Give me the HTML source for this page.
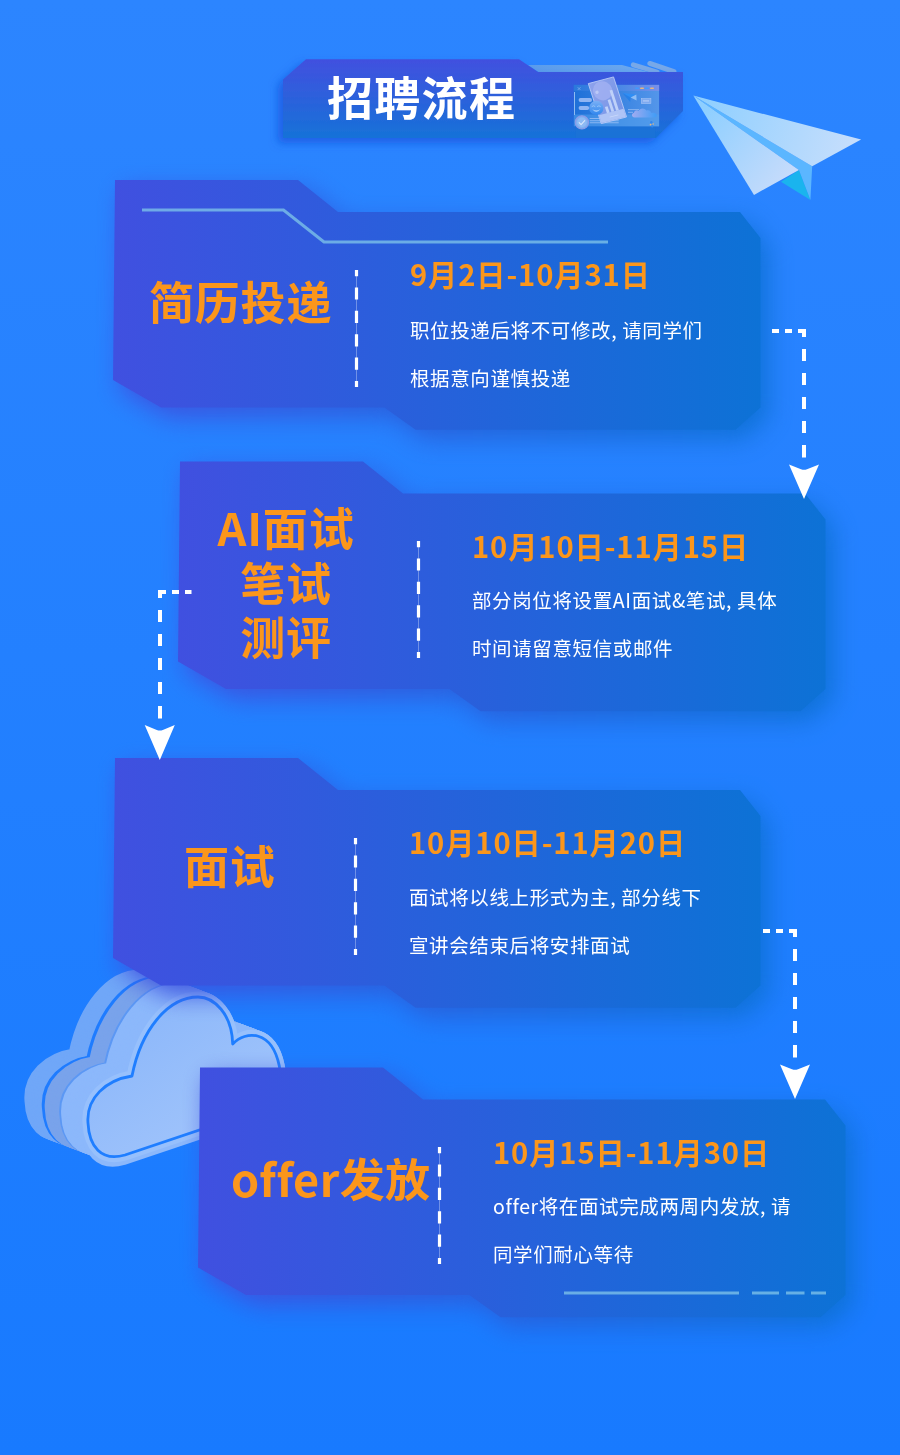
<!DOCTYPE html>
<html lang="zh-CN">
<head>
<meta charset="utf-8">
<title>招聘流程</title>
<style>
html,body{margin:0;padding:0;background:#2C85FF;}
#page{position:relative;width:900px;height:1455px;overflow:hidden;
  background:linear-gradient(180deg,#2C85FF 0%,#187AFF 100%);
  font-family:"Noto Sans CJK SC","Liberation Sans",sans-serif;}
#art{position:absolute;left:0;top:0;width:900px;height:1455px;display:block;}
.t{will-change:transform;position:absolute;white-space:nowrap;margin:0;padding:0;line-height:1;}
.hd{color:#fff;font-weight:700;font-size:46px;letter-spacing:1.3px;}
.ttl{color:#FB961B;font-weight:700;font-size:45px;letter-spacing:0.8px;text-align:center;}
.date{color:#FB961B;font-weight:700;font-size:29.2px;letter-spacing:0.9px;}
.body{color:#fff;font-weight:400;font-size:19.5px;letter-spacing:0.62px;margin-top:0.2px;}
</style>
</head>
<body>
<div id="page">
<svg id="art" width="900" height="1455" viewBox="0 0 900 1455">
<defs>
  <linearGradient id="gCard" x1="0" y1="0" x2="1" y2="0">
    <stop offset="0" stop-color="#4050E0"/><stop offset="1" stop-color="#0D72D6"/>
  </linearGradient>
  <linearGradient id="gBan" x1="0" y1="0" x2="0" y2="1">
    <stop offset="0" stop-color="#4150DF"/><stop offset="1" stop-color="#1672D8"/>
  </linearGradient>
  <filter id="sh" x="-10%" y="-20%" width="120%" height="145%" color-interpolation-filters="sRGB">
    <feGaussianBlur in="SourceGraphic" stdDeviation="12" result="b"/>
    <feOffset in="b" dx="8" dy="10" result="o"/>
    <feComponentTransfer in="o" result="f"><feFuncA type="linear" slope="0.95"/></feComponentTransfer>
    <feMerge><feMergeNode in="f"/><feMergeNode in="SourceGraphic"/></feMerge>
  </filter>
</defs>

<!-- SECTION: banner -->
<g id="banner">
  <defs>
    <filter id="shB" x="-10%" y="-30%" width="120%" height="170%">
      <feDropShadow dx="-5" dy="5" stdDeviation="4.5" flood-color="#1648D6" flood-opacity="0.6"/>
    </filter>
    <linearGradient id="gTab" x1="0" y1="0" x2="1" y2="0">
      <stop offset="0" stop-color="#66A2E6" stop-opacity="0.8"/><stop offset="1" stop-color="#78B0EC" stop-opacity="0.85"/>
    </linearGradient>
  </defs>
  <!-- light tab behind -->
  <path d="M528,65 L622,65 L652,73 L540,73 Z" fill="url(#gTab)"/>
  <path d="M633.3,64.8 L657,72" stroke="#77A8E8" stroke-width="4.9" stroke-linecap="round" fill="none"/>
  <path d="M649.8,63.4 L674,71.6" stroke="#77A8E8" stroke-width="4.9" stroke-linecap="round" fill="none"/>
  <!-- banner body -->
  <path d="M283,79.5 L306,59.3 L519,59.3 L538,72 L683,72 L683,111 L656,138 L283,138 Z" fill="url(#gBan)" filter="url(#shB)"/>
  <!-- banner illustration -->
  <g id="illu">
    <defs>
      <linearGradient id="gWin" x1="0" y1="0" x2="1" y2="0">
        <stop offset="0" stop-color="#1E70D8"/><stop offset="0.55" stop-color="#3B85E2"/><stop offset="1" stop-color="#5496EA"/>
      </linearGradient>
      <linearGradient id="gBar" x1="0" y1="0" x2="1" y2="0">
        <stop offset="0" stop-color="#2A78DC"/><stop offset="0.6" stop-color="#4F8AE6"/><stop offset="1" stop-color="#7A90EA"/>
      </linearGradient>
      <linearGradient id="gPh" x1="0" y1="0" x2="1" y2="1">
        <stop offset="0" stop-color="#8EA2EC"/><stop offset="1" stop-color="#7494E6"/>
      </linearGradient>
      <linearGradient id="gCl" x1="0" y1="0" x2="1" y2="0">
        <stop offset="0" stop-color="#A0ABF0"/><stop offset="1" stop-color="#3F9CF6"/>
      </linearGradient>
      <linearGradient id="gSm" x1="0" y1="0" x2="0" y2="1">
        <stop offset="0" stop-color="#7AB0F6"/><stop offset="1" stop-color="#2F86EE"/>
      </linearGradient>
    </defs>
    <rect x="575.8" y="126" width="79.4" height="12" fill="#1B72D6" opacity="0.85"/>
    <rect x="573.8" y="84.9" width="85.3" height="41.4" fill="url(#gWin)"/>
    <rect x="573.8" y="84.9" width="85.3" height="6" fill="url(#gBar)"/>
    <rect x="573.8" y="114.5" width="85.3" height="11.8" fill="#52A0EC" opacity="0.55"/>
    <rect x="574" y="92" width="0.9" height="23" fill="#9CC4F5"/>
    <path d="M577.7,87.2 l2.8,2.8 m0,-2.8 l-2.8,2.8" stroke="#8FB8F2" stroke-width="0.6" fill="none"/>
    <rect x="635" y="87.4" width="4" height="1.6" rx="0.8" fill="#3F9BFF"/>
    <rect x="640" y="87.4" width="4" height="1.6" rx="0.8" fill="#E9B67E"/>
    <rect x="645" y="87.4" width="4" height="1.6" rx="0.8" fill="#3F9BFF"/>
    <rect x="650" y="87.4" width="4" height="1.6" rx="0.8" fill="#E9B67E"/>
    <rect x="578.6" y="98" width="13.4" height="3.9" rx="1.95" fill="#8FB5F3"/>
    <rect x="578.6" y="106" width="10.6" height="3.9" rx="1.95" fill="#8FB5F3"/>
    <!-- small plane -->
    <path d="M622.4,93 L636.3,94.6 L630.6,97.4 Z" fill="#2F8EF4"/>
    <path d="M622.4,93 L630.6,97.4 L630.2,102 Z" fill="#2680E8"/>
    <path d="M630.6,97.4 L636.3,94.6 L636.6,100.6 Z" fill="#8DBDF6"/>
    <!-- small rect -->
    <rect x="641.3" y="98.6" width="9.6" height="5" fill="#7FAAF0" stroke="#A5C4F6" stroke-width="0.6"/>
    <rect x="643" y="100.2" width="6" height="1.4" fill="#A9C6F7"/>
    <!-- lines -->
    <rect x="628" y="109.2" width="11" height="0.9" fill="#8FB8F2"/>
    <rect x="628" y="111.8" width="5" height="0.9" fill="#8FB8F2"/>
    <!-- cloud -->
    <path d="M634.5,117.4 C631.5,117.4 631,113.6 634,112.8 C634.2,110.6 637,109.6 638.6,111 C639.6,108 644.6,107.4 646.4,110.6 C648.6,109.6 651,110.8 651.2,113 C654.4,112.4 657.6,114 656.6,116 C656.2,117 655,117.4 654,117.4 Z" fill="url(#gCl)"/>
    <!-- lines next to check -->
    <rect x="589.7" y="118.2" width="10" height="0.8" fill="#9CC0F5"/>
    <rect x="589.7" y="120.4" width="29" height="0.8" fill="#9CC0F5"/>
    <rect x="589.7" y="122.4" width="29" height="0.8" fill="#9CC0F5"/>
    <!-- tilted card -->
    <g transform="matrix(0.963,-0.2545,0.313,0.964,588.3,83.6)">
      <rect x="0" y="0" width="26.2" height="41.5" fill="url(#gPh)" stroke="#B9CBF8" stroke-width="0.8"/>
      <circle cx="11.5" cy="10.5" r="9.6" fill="#A3B2F2" opacity="0.8"/>
      <circle cx="5.6" cy="10.5" r="1.7" fill="#BCC9F7"/>
      <rect x="0.4" y="33" width="25.4" height="8.1" fill="#AFC4F6"/>
      <rect x="8.6" y="26.5" width="2.8" height="6.5" fill="#BFD1F9"/>
      <rect x="13.4" y="20.5" width="2.8" height="12.5" fill="#BFD1F9"/>
      <rect x="18.2" y="12" width="2.8" height="21" fill="#BFD1F9"/>
      <rect x="10" y="37" width="9" height="0.8" fill="#C9D8FA"/>
    </g>
    <!-- smiley -->
    <circle cx="596.3" cy="108" r="7.2" fill="url(#gSm)"/>
    <path d="M592.2,109.3 Q596.3,114.6 600.4,109.3 Q596.3,111.4 592.2,109.3 Z" fill="#9CC6F8"/>
    <path d="M592,106.4 q1.5,-1.6 3,0 M597.4,106.4 q1.5,-1.6 3,0" stroke="#9CC6F8" stroke-width="0.9" fill="none" stroke-linecap="round"/>
    <!-- check badge -->
    <circle cx="581.9" cy="122.4" r="6.6" fill="#7FAFF0" stroke="#8B9CE8" stroke-width="1.2"/>
    <circle cx="581.9" cy="122.4" r="4.8" fill="#8DBAF4"/>
    <path d="M579.2,122.6 l1.9,2 l3.6,-4" stroke="#D6E6FC" stroke-width="1.1" fill="none" stroke-linecap="round" stroke-linejoin="round"/>
    <!-- tiny figure -->
    <circle cx="651.3" cy="122.3" r="1.2" fill="#2F86F0"/>
    <circle cx="650.6" cy="124.6" r="0.9" fill="#E9B67E"/>
    <circle cx="652.2" cy="126.4" r="1.1" fill="#2F86F0"/>
    <circle cx="653.2" cy="124" r="0.7" fill="#E9B67E"/>
  </g>
</g>

<!-- SECTION: cards 1,2 -->
<path d="M115,180 L298,180 L338,212 L740,212 L760.5,238 L760.5,407.6 L735.5,429.8 L415.6,429.8 L384.4,407.6 L161,407.6 L113,380 Z" fill="url(#gCard)" filter="url(#sh)"/>
<path d="M115,180 L298,180 L338,212 L740,212 L760.5,238 L760.5,407.6 L735.5,429.8 L415.6,429.8 L384.4,407.6 L161,407.6 L113,380 Z" fill="url(#gCard)" filter="url(#sh)" transform="translate(65,281.5)"/>

<!-- SECTION: cloud -->
<g id="cloud" stroke-width="11" stroke-linejoin="round">
  <defs>
    <linearGradient id="gFace" gradientUnits="userSpaceOnUse" x1="120" y1="1000" x2="230" y2="1150">
      <stop offset="0" stop-color="#8AB6FA"/><stop offset="1" stop-color="#A2C5FB"/>
    </linearGradient>
  </defs>
  <path d="M88,1123 C86,1098 106,1080 132,1076 C141,1030 168,997 198,997 C214,997 232,1014 232.7,1044 C246,1030 272,1030 279.3,1066 C283,1084 279,1100 268,1107 L125,1155 C101,1162 89,1146 88,1123 Z" transform="translate(-58.0,-22.0)" fill="#70A7F8" stroke="#70A7F8"/>
  <path d="M88,1123 C86,1098 106,1080 132,1076 C141,1030 168,997 198,997 C214,997 232,1014 232.7,1044 C246,1030 272,1030 279.3,1066 C283,1084 279,1100 268,1107 L125,1155 C101,1162 89,1146 88,1123 Z" transform="translate(-57.0,-21.6)" fill="#70A7F8" stroke="#70A7F8"/>
  <path d="M88,1123 C86,1098 106,1080 132,1076 C141,1030 168,997 198,997 C214,997 232,1014 232.7,1044 C246,1030 272,1030 279.3,1066 C283,1084 279,1100 268,1107 L125,1155 C101,1162 89,1146 88,1123 Z" transform="translate(-56.1,-21.3)" fill="#70A7F8" stroke="#70A7F8"/>
  <path d="M88,1123 C86,1098 106,1080 132,1076 C141,1030 168,997 198,997 C214,997 232,1014 232.7,1044 C246,1030 272,1030 279.3,1066 C283,1084 279,1100 268,1107 L125,1155 C101,1162 89,1146 88,1123 Z" transform="translate(-55.1,-20.9)" fill="#70A7F8" stroke="#70A7F8"/>
  <path d="M88,1123 C86,1098 106,1080 132,1076 C141,1030 168,997 198,997 C214,997 232,1014 232.7,1044 C246,1030 272,1030 279.3,1066 C283,1084 279,1100 268,1107 L125,1155 C101,1162 89,1146 88,1123 Z" transform="translate(-54.1,-20.5)" fill="#70A7F8" stroke="#70A7F8"/>
  <path d="M88,1123 C86,1098 106,1080 132,1076 C141,1030 168,997 198,997 C214,997 232,1014 232.7,1044 C246,1030 272,1030 279.3,1066 C283,1084 279,1100 268,1107 L125,1155 C101,1162 89,1146 88,1123 Z" transform="translate(-53.2,-20.2)" fill="#70A7F8" stroke="#70A7F8"/>
  <path d="M88,1123 C86,1098 106,1080 132,1076 C141,1030 168,997 198,997 C214,997 232,1014 232.7,1044 C246,1030 272,1030 279.3,1066 C283,1084 279,1100 268,1107 L125,1155 C101,1162 89,1146 88,1123 Z" transform="translate(-52.2,-19.8)" fill="#70A7F8" stroke="#70A7F8"/>
  <path d="M88,1123 C86,1098 106,1080 132,1076 C141,1030 168,997 198,997 C214,997 232,1014 232.7,1044 C246,1030 272,1030 279.3,1066 C283,1084 279,1100 268,1107 L125,1155 C101,1162 89,1146 88,1123 Z" transform="translate(-51.2,-19.4)" fill="#70A7F8" stroke="#70A7F8"/>
  <path d="M88,1123 C86,1098 106,1080 132,1076 C141,1030 168,997 198,997 C214,997 232,1014 232.7,1044 C246,1030 272,1030 279.3,1066 C283,1084 279,1100 268,1107 L125,1155 C101,1162 89,1146 88,1123 Z" transform="translate(-50.3,-19.1)" fill="#70A7F8" stroke="#70A7F8"/>
  <path d="M88,1123 C86,1098 106,1080 132,1076 C141,1030 168,997 198,997 C214,997 232,1014 232.7,1044 C246,1030 272,1030 279.3,1066 C283,1084 279,1100 268,1107 L125,1155 C101,1162 89,1146 88,1123 Z" transform="translate(-49.3,-18.7)" fill="#70A7F8" stroke="#70A7F8"/>
  <path d="M88,1123 C86,1098 106,1080 132,1076 C141,1030 168,997 198,997 C214,997 232,1014 232.7,1044 C246,1030 272,1030 279.3,1066 C283,1084 279,1100 268,1107 L125,1155 C101,1162 89,1146 88,1123 Z" transform="translate(-48.3,-18.3)" fill="#70A7F8" stroke="#70A7F8"/>
  <path d="M88,1123 C86,1098 106,1080 132,1076 C141,1030 168,997 198,997 C214,997 232,1014 232.7,1044 C246,1030 272,1030 279.3,1066 C283,1084 279,1100 268,1107 L125,1155 C101,1162 89,1146 88,1123 Z" transform="translate(-47.4,-18.0)" fill="#70A7F8" stroke="#70A7F8"/>
  <path d="M88,1123 C86,1098 106,1080 132,1076 C141,1030 168,997 198,997 C214,997 232,1014 232.7,1044 C246,1030 272,1030 279.3,1066 C283,1084 279,1100 268,1107 L125,1155 C101,1162 89,1146 88,1123 Z" transform="translate(-46.4,-17.6)" fill="#70A7F8" stroke="#70A7F8"/>
  <path d="M88,1123 C86,1098 106,1080 132,1076 C141,1030 168,997 198,997 C214,997 232,1014 232.7,1044 C246,1030 272,1030 279.3,1066 C283,1084 279,1100 268,1107 L125,1155 C101,1162 89,1146 88,1123 Z" transform="translate(-45.4,-17.2)" fill="#70A7F8" stroke="#70A7F8"/>
  <path d="M88,1123 C86,1098 106,1080 132,1076 C141,1030 168,997 198,997 C214,997 232,1014 232.7,1044 C246,1030 272,1030 279.3,1066 C283,1084 279,1100 268,1107 L125,1155 C101,1162 89,1146 88,1123 Z" transform="translate(-44.5,-16.9)" fill="#70A7F8" stroke="#70A7F8"/>
  <path d="M88,1123 C86,1098 106,1080 132,1076 C141,1030 168,997 198,997 C214,997 232,1014 232.7,1044 C246,1030 272,1030 279.3,1066 C283,1084 279,1100 268,1107 L125,1155 C101,1162 89,1146 88,1123 Z" transform="translate(-43.5,-16.5)" fill="#70A7F8" stroke="#70A7F8"/>
  <path d="M88,1123 C86,1098 106,1080 132,1076 C141,1030 168,997 198,997 C214,997 232,1014 232.7,1044 C246,1030 272,1030 279.3,1066 C283,1084 279,1100 268,1107 L125,1155 C101,1162 89,1146 88,1123 Z" transform="translate(-42.5,-16.1)" fill="#70A7F8" stroke="#70A7F8"/>
  <path d="M88,1123 C86,1098 106,1080 132,1076 C141,1030 168,997 198,997 C214,997 232,1014 232.7,1044 C246,1030 272,1030 279.3,1066 C283,1084 279,1100 268,1107 L125,1155 C101,1162 89,1146 88,1123 Z" transform="translate(-41.6,-15.8)" fill="#70A7F8" stroke="#70A7F8"/>
  <path d="M88,1123 C86,1098 106,1080 132,1076 C141,1030 168,997 198,997 C214,997 232,1014 232.7,1044 C246,1030 272,1030 279.3,1066 C283,1084 279,1100 268,1107 L125,1155 C101,1162 89,1146 88,1123 Z" transform="translate(-40.6,-15.4)" fill="#1F7CFF" stroke="#1F7CFF"/>
  <path d="M88,1123 C86,1098 106,1080 132,1076 C141,1030 168,997 198,997 C214,997 232,1014 232.7,1044 C246,1030 272,1030 279.3,1066 C283,1084 279,1100 268,1107 L125,1155 C101,1162 89,1146 88,1123 Z" transform="translate(-39.6,-15.0)" fill="#1F7CFF" stroke="#1F7CFF"/>
  <path d="M88,1123 C86,1098 106,1080 132,1076 C141,1030 168,997 198,997 C214,997 232,1014 232.7,1044 C246,1030 272,1030 279.3,1066 C283,1084 279,1100 268,1107 L125,1155 C101,1162 89,1146 88,1123 Z" transform="translate(-38.7,-14.7)" fill="#1F7CFF" stroke="#1F7CFF"/>
  <path d="M88,1123 C86,1098 106,1080 132,1076 C141,1030 168,997 198,997 C214,997 232,1014 232.7,1044 C246,1030 272,1030 279.3,1066 C283,1084 279,1100 268,1107 L125,1155 C101,1162 89,1146 88,1123 Z" transform="translate(-37.7,-14.3)" fill="#79A3EB" stroke="#79A3EB"/>
  <path d="M88,1123 C86,1098 106,1080 132,1076 C141,1030 168,997 198,997 C214,997 232,1014 232.7,1044 C246,1030 272,1030 279.3,1066 C283,1084 279,1100 268,1107 L125,1155 C101,1162 89,1146 88,1123 Z" transform="translate(-36.7,-13.9)" fill="#79A3EB" stroke="#79A3EB"/>
  <path d="M88,1123 C86,1098 106,1080 132,1076 C141,1030 168,997 198,997 C214,997 232,1014 232.7,1044 C246,1030 272,1030 279.3,1066 C283,1084 279,1100 268,1107 L125,1155 C101,1162 89,1146 88,1123 Z" transform="translate(-35.8,-13.6)" fill="#79A3EB" stroke="#79A3EB"/>
  <path d="M88,1123 C86,1098 106,1080 132,1076 C141,1030 168,997 198,997 C214,997 232,1014 232.7,1044 C246,1030 272,1030 279.3,1066 C283,1084 279,1100 268,1107 L125,1155 C101,1162 89,1146 88,1123 Z" transform="translate(-34.8,-13.2)" fill="#79A3EB" stroke="#79A3EB"/>
  <path d="M88,1123 C86,1098 106,1080 132,1076 C141,1030 168,997 198,997 C214,997 232,1014 232.7,1044 C246,1030 272,1030 279.3,1066 C283,1084 279,1100 268,1107 L125,1155 C101,1162 89,1146 88,1123 Z" transform="translate(-33.8,-12.8)" fill="#79A3EB" stroke="#79A3EB"/>
  <path d="M88,1123 C86,1098 106,1080 132,1076 C141,1030 168,997 198,997 C214,997 232,1014 232.7,1044 C246,1030 272,1030 279.3,1066 C283,1084 279,1100 268,1107 L125,1155 C101,1162 89,1146 88,1123 Z" transform="translate(-32.9,-12.5)" fill="#79A3EB" stroke="#79A3EB"/>
  <path d="M88,1123 C86,1098 106,1080 132,1076 C141,1030 168,997 198,997 C214,997 232,1014 232.7,1044 C246,1030 272,1030 279.3,1066 C283,1084 279,1100 268,1107 L125,1155 C101,1162 89,1146 88,1123 Z" transform="translate(-31.9,-12.1)" fill="#79A3EB" stroke="#79A3EB"/>
  <path d="M88,1123 C86,1098 106,1080 132,1076 C141,1030 168,997 198,997 C214,997 232,1014 232.7,1044 C246,1030 272,1030 279.3,1066 C283,1084 279,1100 268,1107 L125,1155 C101,1162 89,1146 88,1123 Z" transform="translate(-30.9,-11.7)" fill="#79A3EB" stroke="#79A3EB"/>
  <path d="M88,1123 C86,1098 106,1080 132,1076 C141,1030 168,997 198,997 C214,997 232,1014 232.7,1044 C246,1030 272,1030 279.3,1066 C283,1084 279,1100 268,1107 L125,1155 C101,1162 89,1146 88,1123 Z" transform="translate(-30.0,-11.4)" fill="#79A3EB" stroke="#79A3EB"/>
  <path d="M88,1123 C86,1098 106,1080 132,1076 C141,1030 168,997 198,997 C214,997 232,1014 232.7,1044 C246,1030 272,1030 279.3,1066 C283,1084 279,1100 268,1107 L125,1155 C101,1162 89,1146 88,1123 Z" transform="translate(-29.0,-11.0)" fill="#79A3EB" stroke="#79A3EB"/>
  <path d="M88,1123 C86,1098 106,1080 132,1076 C141,1030 168,997 198,997 C214,997 232,1014 232.7,1044 C246,1030 272,1030 279.3,1066 C283,1084 279,1100 268,1107 L125,1155 C101,1162 89,1146 88,1123 Z" transform="translate(-28.0,-10.6)" fill="#79A3EB" stroke="#79A3EB"/>
  <path d="M88,1123 C86,1098 106,1080 132,1076 C141,1030 168,997 198,997 C214,997 232,1014 232.7,1044 C246,1030 272,1030 279.3,1066 C283,1084 279,1100 268,1107 L125,1155 C101,1162 89,1146 88,1123 Z" transform="translate(-27.1,-10.3)" fill="#79A3EB" stroke="#79A3EB"/>
  <path d="M88,1123 C86,1098 106,1080 132,1076 C141,1030 168,997 198,997 C214,997 232,1014 232.7,1044 C246,1030 272,1030 279.3,1066 C283,1084 279,1100 268,1107 L125,1155 C101,1162 89,1146 88,1123 Z" transform="translate(-26.1,-9.9)" fill="#79A3EB" stroke="#79A3EB"/>
  <path d="M88,1123 C86,1098 106,1080 132,1076 C141,1030 168,997 198,997 C214,997 232,1014 232.7,1044 C246,1030 272,1030 279.3,1066 C283,1084 279,1100 268,1107 L125,1155 C101,1162 89,1146 88,1123 Z" transform="translate(-25.1,-9.5)" fill="#79A3EB" stroke="#79A3EB"/>
  <path d="M88,1123 C86,1098 106,1080 132,1076 C141,1030 168,997 198,997 C214,997 232,1014 232.7,1044 C246,1030 272,1030 279.3,1066 C283,1084 279,1100 268,1107 L125,1155 C101,1162 89,1146 88,1123 Z" transform="translate(-24.2,-9.2)" fill="#79A3EB" stroke="#79A3EB"/>
  <path d="M88,1123 C86,1098 106,1080 132,1076 C141,1030 168,997 198,997 C214,997 232,1014 232.7,1044 C246,1030 272,1030 279.3,1066 C283,1084 279,1100 268,1107 L125,1155 C101,1162 89,1146 88,1123 Z" transform="translate(-23.2,-8.8)" fill="#5C98F4" stroke="#5C98F4"/>
  <path d="M88,1123 C86,1098 106,1080 132,1076 C141,1030 168,997 198,997 C214,997 232,1014 232.7,1044 C246,1030 272,1030 279.3,1066 C283,1084 279,1100 268,1107 L125,1155 C101,1162 89,1146 88,1123 Z" transform="translate(-22.2,-8.4)" fill="#5C98F4" stroke="#5C98F4"/>
  <path d="M88,1123 C86,1098 106,1080 132,1076 C141,1030 168,997 198,997 C214,997 232,1014 232.7,1044 C246,1030 272,1030 279.3,1066 C283,1084 279,1100 268,1107 L125,1155 C101,1162 89,1146 88,1123 Z" transform="translate(-21.3,-8.1)" fill="#8CB8FB" stroke="#8CB8FB"/>
  <path d="M88,1123 C86,1098 106,1080 132,1076 C141,1030 168,997 198,997 C214,997 232,1014 232.7,1044 C246,1030 272,1030 279.3,1066 C283,1084 279,1100 268,1107 L125,1155 C101,1162 89,1146 88,1123 Z" transform="translate(-20.3,-7.7)" fill="#8CB8FB" stroke="#8CB8FB"/>
  <path d="M88,1123 C86,1098 106,1080 132,1076 C141,1030 168,997 198,997 C214,997 232,1014 232.7,1044 C246,1030 272,1030 279.3,1066 C283,1084 279,1100 268,1107 L125,1155 C101,1162 89,1146 88,1123 Z" transform="translate(-19.3,-7.3)" fill="#8CB8FB" stroke="#8CB8FB"/>
  <path d="M88,1123 C86,1098 106,1080 132,1076 C141,1030 168,997 198,997 C214,997 232,1014 232.7,1044 C246,1030 272,1030 279.3,1066 C283,1084 279,1100 268,1107 L125,1155 C101,1162 89,1146 88,1123 Z" transform="translate(-18.4,-7.0)" fill="#8CB8FB" stroke="#8CB8FB"/>
  <path d="M88,1123 C86,1098 106,1080 132,1076 C141,1030 168,997 198,997 C214,997 232,1014 232.7,1044 C246,1030 272,1030 279.3,1066 C283,1084 279,1100 268,1107 L125,1155 C101,1162 89,1146 88,1123 Z" transform="translate(-17.4,-6.6)" fill="#8CB8FB" stroke="#8CB8FB"/>
  <path d="M88,1123 C86,1098 106,1080 132,1076 C141,1030 168,997 198,997 C214,997 232,1014 232.7,1044 C246,1030 272,1030 279.3,1066 C283,1084 279,1100 268,1107 L125,1155 C101,1162 89,1146 88,1123 Z" transform="translate(-16.4,-6.2)" fill="#8CB8FB" stroke="#8CB8FB"/>
  <path d="M88,1123 C86,1098 106,1080 132,1076 C141,1030 168,997 198,997 C214,997 232,1014 232.7,1044 C246,1030 272,1030 279.3,1066 C283,1084 279,1100 268,1107 L125,1155 C101,1162 89,1146 88,1123 Z" transform="translate(-15.5,-5.9)" fill="#8CB8FB" stroke="#8CB8FB"/>
  <path d="M88,1123 C86,1098 106,1080 132,1076 C141,1030 168,997 198,997 C214,997 232,1014 232.7,1044 C246,1030 272,1030 279.3,1066 C283,1084 279,1100 268,1107 L125,1155 C101,1162 89,1146 88,1123 Z" transform="translate(-14.5,-5.5)" fill="#8CB8FB" stroke="#8CB8FB"/>
  <path d="M88,1123 C86,1098 106,1080 132,1076 C141,1030 168,997 198,997 C214,997 232,1014 232.7,1044 C246,1030 272,1030 279.3,1066 C283,1084 279,1100 268,1107 L125,1155 C101,1162 89,1146 88,1123 Z" transform="translate(-13.5,-5.1)" fill="#8CB8FB" stroke="#8CB8FB"/>
  <path d="M88,1123 C86,1098 106,1080 132,1076 C141,1030 168,997 198,997 C214,997 232,1014 232.7,1044 C246,1030 272,1030 279.3,1066 C283,1084 279,1100 268,1107 L125,1155 C101,1162 89,1146 88,1123 Z" transform="translate(-12.6,-4.8)" fill="#8CB8FB" stroke="#8CB8FB"/>
  <path d="M88,1123 C86,1098 106,1080 132,1076 C141,1030 168,997 198,997 C214,997 232,1014 232.7,1044 C246,1030 272,1030 279.3,1066 C283,1084 279,1100 268,1107 L125,1155 C101,1162 89,1146 88,1123 Z" transform="translate(-11.6,-4.4)" fill="#8CB8FB" stroke="#8CB8FB"/>
  <path d="M88,1123 C86,1098 106,1080 132,1076 C141,1030 168,997 198,997 C214,997 232,1014 232.7,1044 C246,1030 272,1030 279.3,1066 C283,1084 279,1100 268,1107 L125,1155 C101,1162 89,1146 88,1123 Z" transform="translate(-10.6,-4.0)" fill="#8CB8FB" stroke="#8CB8FB"/>
  <path d="M88,1123 C86,1098 106,1080 132,1076 C141,1030 168,997 198,997 C214,997 232,1014 232.7,1044 C246,1030 272,1030 279.3,1066 C283,1084 279,1100 268,1107 L125,1155 C101,1162 89,1146 88,1123 Z" transform="translate(-9.7,-3.7)" fill="#8CB8FB" stroke="#8CB8FB"/>
  <path d="M88,1123 C86,1098 106,1080 132,1076 C141,1030 168,997 198,997 C214,997 232,1014 232.7,1044 C246,1030 272,1030 279.3,1066 C283,1084 279,1100 268,1107 L125,1155 C101,1162 89,1146 88,1123 Z" transform="translate(-8.7,-3.3)" fill="#8CB8FB" stroke="#8CB8FB"/>
  <path d="M88,1123 C86,1098 106,1080 132,1076 C141,1030 168,997 198,997 C214,997 232,1014 232.7,1044 C246,1030 272,1030 279.3,1066 C283,1084 279,1100 268,1107 L125,1155 C101,1162 89,1146 88,1123 Z" transform="translate(-7.7,-2.9)" fill="#8CB8FB" stroke="#8CB8FB"/>
  <path d="M88,1123 C86,1098 106,1080 132,1076 C141,1030 168,997 198,997 C214,997 232,1014 232.7,1044 C246,1030 272,1030 279.3,1066 C283,1084 279,1100 268,1107 L125,1155 C101,1162 89,1146 88,1123 Z" transform="translate(-6.8,-2.6)" fill="#8CB8FB" stroke="#8CB8FB"/>
  <path d="M88,1123 C86,1098 106,1080 132,1076 C141,1030 168,997 198,997 C214,997 232,1014 232.7,1044 C246,1030 272,1030 279.3,1066 C283,1084 279,1100 268,1107 L125,1155 C101,1162 89,1146 88,1123 Z" transform="translate(-5.8,-2.2)" fill="#8CB8FB" stroke="#8CB8FB"/>
  <path d="M88,1123 C86,1098 106,1080 132,1076 C141,1030 168,997 198,997 C214,997 232,1014 232.7,1044 C246,1030 272,1030 279.3,1066 C283,1084 279,1100 268,1107 L125,1155 C101,1162 89,1146 88,1123 Z" transform="translate(-4.8,-1.8)" fill="#8CB8FB" stroke="#8CB8FB"/>
  <path d="M88,1123 C86,1098 106,1080 132,1076 C141,1030 168,997 198,997 C214,997 232,1014 232.7,1044 C246,1030 272,1030 279.3,1066 C283,1084 279,1100 268,1107 L125,1155 C101,1162 89,1146 88,1123 Z" transform="translate(-3.9,-1.5)" fill="#8CB8FB" stroke="#8CB8FB"/>
  <path d="M88,1123 C86,1098 106,1080 132,1076 C141,1030 168,997 198,997 C214,997 232,1014 232.7,1044 C246,1030 272,1030 279.3,1066 C283,1084 279,1100 268,1107 L125,1155 C101,1162 89,1146 88,1123 Z" transform="translate(-2.9,-1.1)" fill="#8CB8FB" stroke="#8CB8FB"/>
  <path d="M88,1123 C86,1098 106,1080 132,1076 C141,1030 168,997 198,997 C214,997 232,1014 232.7,1044 C246,1030 272,1030 279.3,1066 C283,1084 279,1100 268,1107 L125,1155 C101,1162 89,1146 88,1123 Z" transform="translate(-1.9,-0.7)" fill="#8CB8FB" stroke="#8CB8FB"/>
  <path d="M88,1123 C86,1098 106,1080 132,1076 C141,1030 168,997 198,997 C214,997 232,1014 232.7,1044 C246,1030 272,1030 279.3,1066 C283,1084 279,1100 268,1107 L125,1155 C101,1162 89,1146 88,1123 Z" transform="translate(-1.0,-0.4)" fill="#8CB8FB" stroke="#8CB8FB"/>
  <path d="M88,1123 C86,1098 106,1080 132,1076 C141,1030 168,997 198,997 C214,997 232,1014 232.7,1044 C246,1030 272,1030 279.3,1066 C283,1084 279,1100 268,1107 L125,1155 C101,1162 89,1146 88,1123 Z" transform="translate(-0.0,-0.0)" fill="#8CB8FB" stroke="#8CB8FB"/>
  <path d="M88,1123 C86,1098 106,1080 132,1076 C141,1030 168,997 198,997 C214,997 232,1014 232.7,1044 C246,1030 272,1030 279.3,1066 C283,1084 279,1100 268,1107 L125,1155 C101,1162 89,1146 88,1123 Z" transform="translate(-1.5,4.5)" fill="#8CB8FB" stroke="#8CB8FB"/>
  <path d="M88,1123 C86,1098 106,1080 132,1076 C141,1030 168,997 198,997 C214,997 232,1014 232.7,1044 C246,1030 272,1030 279.3,1066 C283,1084 279,1100 268,1107 L125,1155 C101,1162 89,1146 88,1123 Z" fill="url(#gFace)" stroke="#97C0FC"/>
  <path d="M88,1123 C86,1098 106,1080 132,1076 C141,1030 168,997 198,997 C214,997 232,1014 232.7,1044 C246,1030 272,1030 279.3,1066 C283,1084 279,1100 268,1107 L125,1155 C101,1162 89,1146 88,1123 Z" fill="url(#gFace)" stroke="#1F7EFF" stroke-width="2.8"/>
</g>

<!-- SECTION: cards 3,4 -->
<path d="M115,180 L298,180 L338,212 L740,212 L760.5,238 L760.5,407.6 L735.5,429.8 L415.6,429.8 L384.4,407.6 L161,407.6 L113,380 Z" fill="url(#gCard)" filter="url(#sh)" transform="translate(0,578)"/>
<path d="M115,180 L298,180 L338,212 L740,212 L760.5,238 L760.5,407.6 L735.5,429.8 L415.6,429.8 L384.4,407.6 L161,407.6 L113,380 Z" fill="url(#gCard)" filter="url(#sh)" transform="translate(85,887.5)"/>

<!-- SECTION: decor lines -->
<g id="decor" fill="none" stroke="#7CC0E8" stroke-opacity="0.8" stroke-width="3">
  <path d="M142,210 L283.5,210 L324,242 L608,242" stroke-linejoin="miter"/>
  <path d="M564,1293 L739,1293 M752,1293 L779,1293 M786,1293 L804.5,1293 M811,1293 L826,1293"/>
</g>
<g id="dividers">
  <g>
    <line x1="356.5" y1="270" x2="356.5" y2="387" stroke="#fff" stroke-opacity="0.32" stroke-width="1"/>
    <line x1="356.5" y1="270" x2="356.5" y2="387" stroke="#fff" stroke-width="3.2" stroke-dasharray="12.2 11.2" stroke-dashoffset="6"/>
  </g>
  <g transform="translate(62,271)">
    <line x1="356.5" y1="270" x2="356.5" y2="387" stroke="#fff" stroke-opacity="0.32" stroke-width="1"/>
    <line x1="356.5" y1="270" x2="356.5" y2="387" stroke="#fff" stroke-width="3.2" stroke-dasharray="12.2 11.2" stroke-dashoffset="6"/>
  </g>
  <g transform="translate(-1,568)">
    <line x1="356.5" y1="270" x2="356.5" y2="387" stroke="#fff" stroke-opacity="0.32" stroke-width="1"/>
    <line x1="356.5" y1="270" x2="356.5" y2="387" stroke="#fff" stroke-width="3.2" stroke-dasharray="12.2 11.2" stroke-dashoffset="6"/>
  </g>
  <g transform="translate(83,877)">
    <line x1="356.5" y1="270" x2="356.5" y2="387" stroke="#fff" stroke-opacity="0.32" stroke-width="1"/>
    <line x1="356.5" y1="270" x2="356.5" y2="387" stroke="#fff" stroke-width="3.2" stroke-dasharray="12.2 11.2" stroke-dashoffset="6"/>
  </g>
</g>

<!-- SECTION: arrows -->
<g id="arrows" fill="#fff" stroke="none">
  <g>
    <path d="M772,329 h7 v4 h-7 Z M785,329 h7 v4 h-7 Z M798,329 h8 v8 h-4 v-4 h-4 Z"/>
    <path d="M802,349 h4 v12 h-4 Z M802,373 h4 v12 h-4 Z M802,397 h4 v12 h-4 Z M802,421 h4 v12 h-4 Z M802,445 h4 v12.5 h-4 Z"/>
    <path d="M789,464.5 L801,469.3 Q804,470.3 807,469.3 L819,464.5 L804,499 Z"/>
  </g>
  <g transform="translate(-9,600)">
    <path d="M772,329 h7 v4 h-7 Z M785,329 h7 v4 h-7 Z M798,329 h8 v8 h-4 v-4 h-4 Z"/>
    <path d="M802,349 h4 v12 h-4 Z M802,373 h4 v12 h-4 Z M802,397 h4 v12 h-4 Z M802,421 h4 v12 h-4 Z M802,445 h4 v12.5 h-4 Z"/>
    <path d="M789,464.5 L801,469.3 Q804,470.3 807,469.3 L819,464.5 L804,499 Z"/>
  </g>
  <g>
    <path d="M185,590 h6.5 v4 h-6.5 Z M172,590 h7 v4 h-7 Z M158,590 h8 v4 h-4 v4 h-4 Z"/>
    <path d="M158,610 h4 v12 h-4 Z M158,634 h4 v12 h-4 Z M158,658 h4 v12 h-4 Z M158,682 h4 v12 h-4 Z M158,706 h4 v12.5 h-4 Z"/>
    <path d="M144.7,725 L156.8,730 Q159.8,731 162.8,730 L174.8,725 L159.8,760 Z"/>
  </g>
</g>

<!-- SECTION: plane -->
<g id="plane">
  <defs>
    <linearGradient id="gW1" gradientUnits="userSpaceOnUse" x1="700" y1="100" x2="855" y2="145">
      <stop offset="0" stop-color="#8ECFFF"/><stop offset="1" stop-color="#C6DEFC"/>
    </linearGradient>
    <linearGradient id="gW2" gradientUnits="userSpaceOnUse" x1="705" y1="110" x2="795" y2="180">
      <stop offset="0" stop-color="#8ECFFF"/><stop offset="1" stop-color="#C9DCFB"/>
    </linearGradient>
  </defs>
  <path d="M781,181.8 L798.9,170 L810.4,200 Z" fill="#1AB4EE"/>
  <path d="M693.3,95.6 L812.2,166.2 L810.4,200 L798.9,170 Z" fill="#5BB6FF"/>
  <path d="M693.3,95.6 L861.1,139.6 L812.2,166.2 Z" fill="url(#gW1)"/>
  <path d="M693.3,95.6 L798.9,170 L754,194.9 Z" fill="url(#gW2)"/>
</g>
</svg>

<!-- SECTION: text -->
<div class="t hd" style="left:327.4px;top:71.7px;">招聘流程</div>

<div class="t ttl" style="left:148.5px;top:277.9px;">简历投递</div>
<div class="t date" style="left:410px;top:258.5px;">9月2日-10月31日</div>
<div class="t body" style="left:410px;top:319.5px;">职位投递后将不可修改, 请同学们</div>
<div class="t body" style="left:410px;top:367.5px;">根据意向谨慎投递</div>

<div class="t ttl" style="left:186px;top:499.6px;width:200px;line-height:54.5px;">AI面试<br>笔试<br>测评</div>
<div class="t date" style="left:472px;top:531px;">10月10日-11月15日</div>
<div class="t body" style="left:472px;top:590px;">部分岗位将设置AI面试&amp;笔试, 具体</div>
<div class="t body" style="left:472px;top:638px;">时间请留意短信或邮件</div>

<div class="t ttl" style="left:183.8px;top:841.9px;">面试</div>
<div class="t date" style="left:409px;top:827.2px;">10月10日-11月20日</div>
<div class="t body" style="left:409px;top:887px;">面试将以线上形式为主, 部分线下</div>
<div class="t body" style="left:409px;top:935px;">宣讲会结束后将安排面试</div>

<div class="t ttl" style="left:231.3px;top:1154.8px;letter-spacing:0.4px;">offer发放</div>
<div class="t date" style="left:493px;top:1136.6px;">10月15日-11月30日</div>
<div class="t body" style="left:493px;top:1196px;">offer将在面试完成两周内发放, 请</div>
<div class="t body" style="left:493px;top:1244px;">同学们耐心等待</div>

</div>
</body>
</html>
